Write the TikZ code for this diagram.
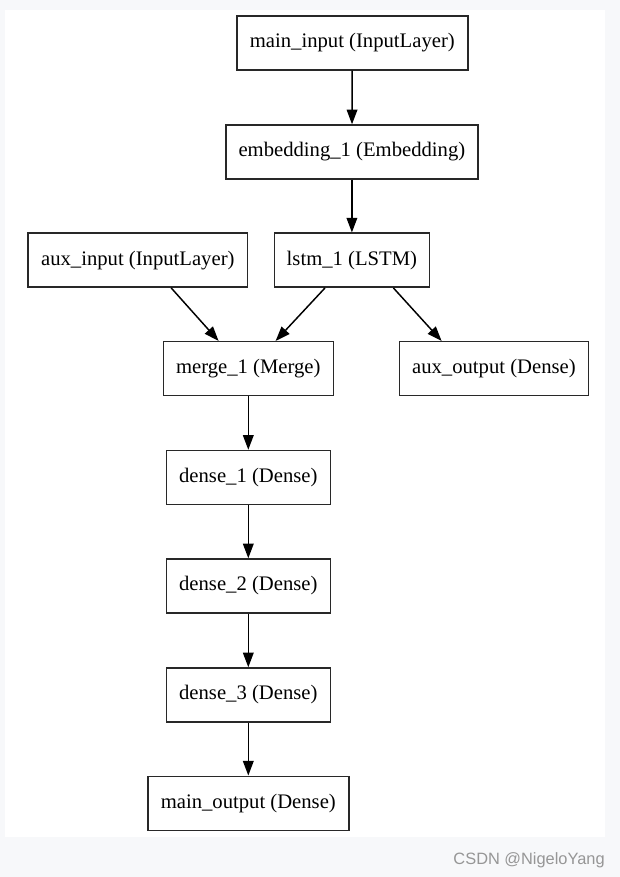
\documentclass[tikz,border=0pt]{standalone}
\usepackage{fontspec}
\setmainfont{Liberation Serif}
\newfontfamily\wmfont{Liberation Sans}
\usetikzlibrary{arrows.meta,calc}
\definecolor{bggray}{RGB}{247,248,250}
\definecolor{wmgray}{RGB}{150,150,150}
\definecolor{boxline}{RGB}{40,40,40}
\tikzset{
  layer/.style={draw=boxline, line width=1.1pt, rectangle, minimum height=54*0.75pt,
    inner sep=0pt, font=\fontsize{15.5pt}{18pt}\selectfont, text=black},
  conn/.style={line width=1.1pt, draw=black, -{Triangle[length=11pt,width=8pt]}}
}
\begin{document}
\begin{tikzpicture}[x=0.75pt,y=-0.75pt]
\fill[bggray] (0,0) rectangle (620,877);
\fill[white] (4.7,10) rectangle (605,836.7);
\useasboundingbox (0,0) rectangle (620,877);

\node[layer, minimum width=231*0.75pt] (mi) at (352.3,42.9) {main\_input (InputLayer)};
\node[layer, minimum width=252*0.75pt] (emb) at (351.9,152) {embedding\_1 (Embedding)};
\node[layer, minimum width=219.5*0.75pt] (ai) at (137.8,260.2) {aux\_input (InputLayer)};
\node[layer, minimum width=155*0.75pt] (lstm) at (351.9,260.2) {lstm\_1 (LSTM)};
\node[layer, minimum width=170*0.75pt] (mg) at (248.3,368.7) {merge\_1 (Merge)};
\node[layer, minimum width=189*0.75pt] (ao) at (493.9,368.7) {aux\_output (Dense)};
\node[layer, minimum width=164*0.75pt] (d1) at (248.3,477.5) {dense\_1 (Dense)};
\node[layer, minimum width=164*0.75pt] (d2) at (248.3,586) {dense\_2 (Dense)};
\node[layer, minimum width=164*0.75pt] (d3) at (248.3,695) {dense\_3 (Dense)};
\node[layer, minimum width=201*0.75pt] (mo) at (248.3,803.3) {main\_output (Dense)};

\draw[conn] (mi) -- (emb);
\draw[conn] (emb) -- (lstm);
\draw[conn] ($(ai.south)+(33.4,0)$) -- ($(mg.north)+(-29.7,0)$);
\draw[conn] ($(lstm.south)+(-26.9,0)$) -- ($(mg.north)+(27.3,0)$);
\draw[conn] ($(lstm.south)+(41.5,0)$) -- ($(ao.north)+(-52.3,0)$);
\draw[conn] (mg) -- (d1);
\draw[conn] (d1) -- (d2);
\draw[conn] (d2) -- (d3);
\draw[conn] (d3) -- (mo);

\node[anchor=base east, inner sep=0pt, text=wmgray, font=\wmfont\fontsize{12.3pt}{14pt}\selectfont] (wm) at (605,864) {CSDN @NigeloYang};
\end{tikzpicture}
\end{document}
